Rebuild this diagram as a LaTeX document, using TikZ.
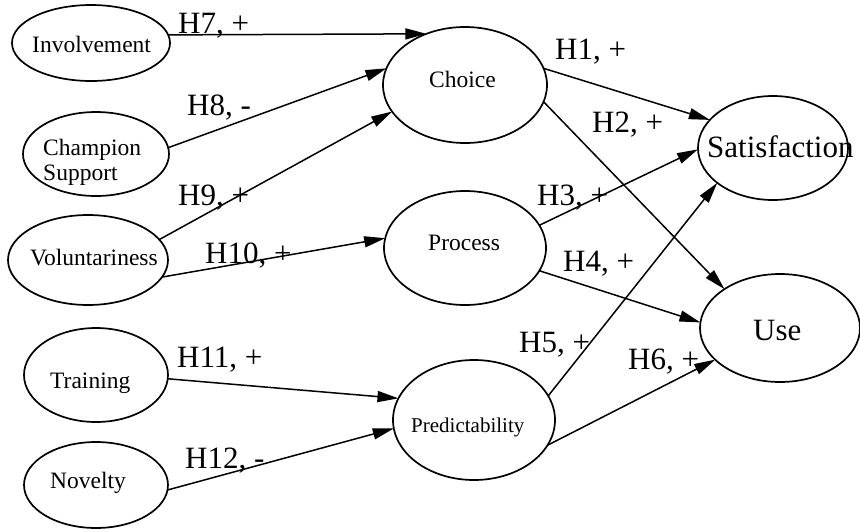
\documentclass[tikz,border=0pt]{standalone}
\usepackage{fontspec}
\setmainfont{Liberation Serif}
\usetikzlibrary{shapes.geometric,arrows.meta}
\begin{document}
\begin{tikzpicture}[x=1pt,y=-1pt,
  ell/.style={draw, ellipse, line width=1.7pt, inner sep=0pt, outer sep=0pt},
  conn/.style={line width=1.5pt, -{Triangle[length=21pt,width=11pt]}},
  hyp/.style={anchor=base west, inner sep=0pt, font=\fontsize{31}{36}\selectfont},
  txt/.style={anchor=base west, inner sep=0pt, font=\fontsize{23.5}{25}\selectfont},
  big/.style={anchor=base west, inner sep=0pt, font=\fontsize{31}{36}\selectfont},
]
\useasboundingbox (0,0) rectangle (860,531);

% ellipses
\node[ell, minimum width=158pt, minimum height=76pt]  (inv) at (91,43)  {};
\node[ell, minimum width=146pt, minimum height=84pt]  (cs)  at (96,154) {};
\node[ell, minimum width=160pt, minimum height=90pt]  (vol) at (88,260) {};
\node[ell, minimum width=144pt, minimum height=94pt]  (tra) at (96,375) {};
\node[ell, minimum width=144pt, minimum height=86pt]  (nov) at (96,485) {};
\node[ell, minimum width=164pt, minimum height=116pt] (cho) at (465,85) {};
\node[ell, minimum width=162pt, minimum height=114pt] (pro) at (465,248) {};
\node[ell, minimum width=162pt, minimum height=120pt] (pre) at (474,420) {};
\node[ell, minimum width=150pt, minimum height=104pt] (sat) at (773,148) {};
\node[ell, minimum width=160pt, minimum height=108pt] (use) at (780,328) {};

% texts
\node[txt] (invT) at (32,52) {Involvement};
\node[txt, align=left] (csT) at (43,180) {Champion\\Support};
\node[txt] (volT) at (30,265) {Voluntariness};
\node[txt] (traT) at (50,388) {Training};
\node[txt] (novT) at (50,488) {Novelty};
\node[txt] (choT) at (429,87) {Choice};
\node[txt] (proT) at (428,250) {Process};
\node[txt, font=\fontsize{21}{24}\selectfont] (preT) at (411,432) {Predictability};
\node[big] (satT) at (707,157) {Satisfaction};
\node[big] (useT) at (753,340) {Use};

% connectors
\draw[conn] (inv.6)   -- (cho.127);
\draw[conn] (cs.5)    -- (cho.168);
\draw[conn] (vol.16)  -- (cho.200);
\draw[conn] (vol.-13) -- (pro.173);
\draw[conn] (cho.12)  -- (sat.156);
\draw[conn] (cho.-12) -- (use.145);
\draw[conn] (pro.17)  -- (sat.181);
\draw[conn] (pro.-17) -- (use.176);
\draw[conn] (pre.18)  -- (sat.212);
\draw[conn] (pre.-19) -- (use.206);
\draw[conn] (tra.-3)  -- (pre.164);
\draw[conn] (nov.-4)  -- (pre.186);

% hypothesis labels
\node[hyp] (h7)  at (178,33)  {H7, +};
\node[hyp] (h8)  at (187,115) {H8, -};
\node[hyp] (h9)  at (178,205) {H9, +};
\node[hyp] (h10) at (205,263) {H10, +};
\node[hyp] (h1)  at (555,59)  {H1, +};
\node[hyp] (h2)  at (592,132) {H2, +};
\node[hyp] (h3)  at (537,205) {H3, +};
\node[hyp] (h4)  at (563,271) {H4, +};
\node[hyp] (h5)  at (519,352) {H5, +};
\node[hyp] (h6)  at (628,369) {H6, +};
\node[hyp] (h11) at (177,367) {H11, +};
\node[hyp] (h12) at (185,468) {H12, -};
\end{tikzpicture}
\end{document}
